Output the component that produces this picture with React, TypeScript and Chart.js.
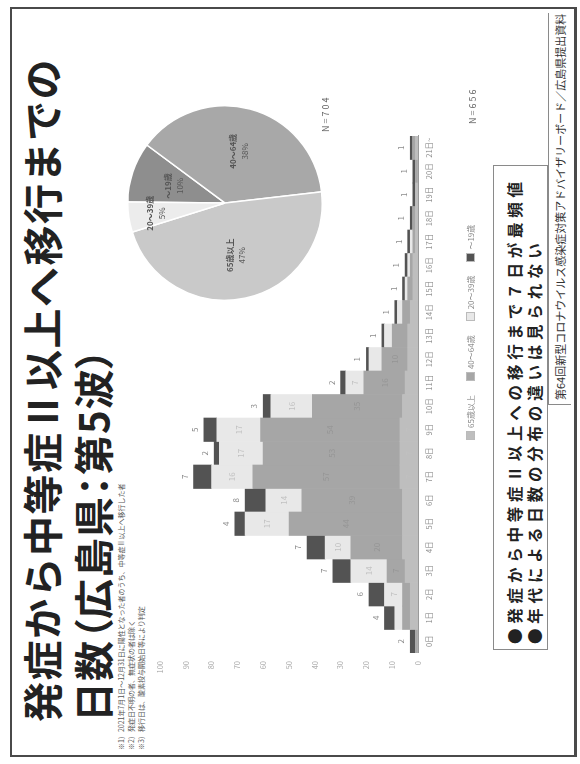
import React, { useEffect, useRef } from "react";
import { Chart, registerables } from "chart.js";
Chart.register(...registerables);

// ---- data ----
const categories = [
  "0日", "1日", "2日", "3日", "4日", "5日", "6日", "7日", "8日", "9日", "10日",
  "11日", "12日", "13日", "14日", "15日", "16日", "17日", "18日", "19日", "20日", "21日~",
];
const groupLabels = ["65歳以上", "40～64歳", "20～39歳", "～19歳"];
const groupColors = ["#bebebe", "#a6a6a6", "#e8e8e8", "#535353"];
const seriesBase = [0, 3, 3, 5, 6, 6, 6, 7, 7, 7, 6, 5, 4, 4, 3, 2, 2, 1, 1, 1, 0, 1];
const seriesMid = [1, 3, 3, 7, 20, 44, 39, 57, 53, 54, 35, 16, 10, 6, 3, 2, 1, 1, 1, 0, 1, 1];
const seriesLight = [0, 3, 7, 14, 10, 17, 14, 16, 17, 17, 16, 7, 5, 3, 2, 1, 1, 1, 0, 0, 0, 0];
const seriesDark = [2, 4, 6, 7, 7, 4, 8, 7, 2, 5, 3, 2, 1, 1, 1, 1, 1, 1, 1, 1, 1, 1];
const yMin = 0;
const yMax = 100;
const yStep = 10;

const pieLabels = ["～19歳", "40～64歳", "65歳以上", "20～39歳"];
const pieValues = [10, 38, 47, 5];
const pieColors = ["#8e8e8e", "#a8a8a8", "#c9c9c9", "#ececec"];

const FONT = '"Noto Sans CJK JP", "Noto Sans", sans-serif';

const barLabelPlugin = {
  id: "barLabels",
  afterDatasetsDraw(chart: any) {
    const ctx = chart.ctx;
    ctx.save();
    ctx.font = `8px ${FONT}`;
    ctx.textAlign = "center";
    chart.data.datasets.forEach((ds: any, di: number) => {
      const meta = chart.getDatasetMeta(di);
      meta.data.forEach((el: any, i: number) => {
        const v = ds.data[i];
        if (!v) return;
        const { x, y, base } = el.getProps(["x", "y", "base"], true);
        const h = base - y;
        if (di === chart.data.datasets.length - 1) {
          ctx.fillStyle = "#8a8a8a";
          ctx.textBaseline = "bottom";
          ctx.fillText(String(v), x, y - 5);
        } else if (h >= 16) {
          ctx.fillStyle = di === 1 ? "#959595" : "#c0c0c0";
          ctx.textBaseline = "middle";
          ctx.fillText(String(v), x, (y + base) / 2);
        }
      });
    });
    ctx.restore();
  },
};

const pieLabelPlugin = {
  id: "pieLabels",
  afterDatasetsDraw(chart: any) {
    const ctx = chart.ctx;
    const meta = chart.getDatasetMeta(0);
    ctx.save();
    ctx.textAlign = "center";
    ctx.textBaseline = "middle";
    meta.data.forEach((arc: any, i: number) => {
      const { x, y, startAngle, endAngle, outerRadius } = arc.getProps(
        ["x", "y", "startAngle", "endAngle", "outerRadius"],
        true
      );
      const mid = (startAngle + endAngle) / 2;
      const r = outerRadius * (pieValues[i] < 8 ? 0.72 : 0.55);
      const px = x + Math.cos(mid) * r;
      const py = y + Math.sin(mid) * r;
      ctx.fillStyle = "#555";
      ctx.font = `bold 8px ${FONT}`;
      ctx.fillText(pieLabels[i], px, py - 6);
      ctx.font = `8px ${FONT}`;
      ctx.fillText(pieValues[i] + "%", px, py + 6);
    });
    ctx.restore();
  },
};

export default function App() {
  const barRef = useRef<HTMLCanvasElement>(null);
  const pieRef = useRef<HTMLCanvasElement>(null);

  useEffect(() => {
    const seriesList = [seriesBase, seriesMid, seriesLight, seriesDark];
    const bar = new Chart(barRef.current as HTMLCanvasElement, {
      type: "bar",
      data: {
        labels: categories,
        datasets: seriesList.map((d, k) => ({
          label: groupLabels[k],
          data: d,
          backgroundColor: groupColors[k],
          borderWidth: 0,
          barPercentage: 1,
          categoryPercentage: 1,
        })),
      },
      options: {
        animation: false,
        responsive: false,
        layout: { autoPadding: false, padding: { top: 20, right: 32, left: 0, bottom: 0 } },
        plugins: { legend: { display: false }, tooltip: { enabled: false } },
        scales: {
          x: {
            stacked: true,
            grid: { display: false, drawTicks: false },
            border: { display: true, color: "#9a9a9a" },
            ticks: { font: { size: 7.5, family: FONT }, color: "#8c8c8c", maxRotation: 0, autoSkip: false, padding: 7 },
            afterFit: (s: any) => {
              s.height = 52;
            },
          },
          y: {
            stacked: true,
            min: yMin,
            max: yMax,
            grid: { display: false, drawTicks: false },
            border: { display: false },
            ticks: { stepSize: yStep, font: { size: 7.5, family: FONT }, color: "#a8a8a8", padding: 8 },
            afterFit: (s: any) => {
              s.width = 51;
            },
          },
        },
      },
      plugins: [barLabelPlugin],
    } as any);

    const pie = new Chart(pieRef.current as HTMLCanvasElement, {
      type: "pie",
      data: {
        labels: pieLabels,
        datasets: [
          {
            data: pieValues,
            backgroundColor: pieColors,
            borderColor: "#ffffff",
            borderWidth: 1.5,
          },
        ],
      },
      options: {
        animation: false,
        responsive: false,
        rotation: 0.6,
        layout: { padding: 0 },
        plugins: { legend: { display: false }, tooltip: { enabled: false } },
      },
      plugins: [pieLabelPlugin],
    } as any);

    return () => {
      bar.destroy();
      pie.destroy();
    };
  }, []);

  const abs = (s: React.CSSProperties): React.CSSProperties => ({ position: "absolute", ...s });

  return (
    <div style={{ position: "fixed", left: 0, top: 0, width: 580, height: 764, overflow: "hidden", background: "#fff" }}>
      <div
        style={{
          position: "absolute",
          left: 0,
          top: 0,
          width: 764,
          height: 580,
          transformOrigin: "0 0",
          transform: "translate(0px, 764px) rotate(-90deg)",
          fontFamily: FONT,
          color: "#1c1c1c",
          background: "#fff",
        }}
      >
        {/* frame */}
        <div style={abs({ left: 7, top: 10, width: 746, height: 562, borderStyle: "solid", borderColor: "#4a4a4a", borderWidth: "2px 2px 3px 2px" })} />

        {/* title */}
        <div style={abs({ left: 42, top: 16, fontSize: 40, fontWeight: 700, lineHeight: "50px", whiteSpace: "nowrap", letterSpacing: 1.5, color: "#222" })}>
          発症から中等症Ⅱ以上へ移行までの
        </div>
        <div style={abs({ left: 42, top: 67, fontSize: 40, fontWeight: 700, lineHeight: "50px", whiteSpace: "nowrap", letterSpacing: 1, fontFeatureSettings: '"palt"', color: "#222" })}>
          日数（広島県：第5波）
        </div>

        {/* notes */}
        <div style={abs({ left: 14, top: 116, fontSize: 7, lineHeight: "10px", color: "#555", whiteSpace: "nowrap" })}>
          <div>※1）2021年7月1日～12月31日に陽性となった者のうち、中等症Ⅱ以上へ移行した者</div>
          <div>※2）発症日不明の者、無症状の者は除く</div>
          <div>※3）移行日は、酸素投与開始日等により判定</div>
        </div>

        {/* pie */}
        <canvas ref={pieRef} width={196} height={196} style={abs({ left: 463, top: 127, width: 196, height: 196 })} />
        <div style={abs({ left: 632, top: 319, fontSize: 9, color: "#666", letterSpacing: 2, whiteSpace: "nowrap" })}>N=704</div>

        {/* bar chart */}
        <canvas ref={barRef} width={600} height={330} style={abs({ left: 60, top: 140, width: 600, height: 330 })} />

        {/* legend */}
        <div style={abs({ left: 324, top: 465, display: "flex", gap: 14, fontSize: 8, color: "#888", whiteSpace: "nowrap" })}>
          {groupLabels.map((g, k) => (
            <div key={g} style={{ display: "flex", alignItems: "center", gap: 3 }}>
              <span style={{ display: "inline-block", width: 7, height: 7, background: groupColors[k], border: "1px solid #bbb" }} />
              <span>{g}</span>
            </div>
          ))}
        </div>
        <div style={abs({ left: 640, top: 466, fontSize: 9, color: "#666", letterSpacing: 2, whiteSpace: "nowrap" })}>N=656</div>

        {/* key message box */}
        <div style={abs({ left: 114, top: 493, width: 483, height: 53, border: "1px solid #8a8a8a", background: "#fff" })}>
          <div style={{ position: "absolute", left: 5, top: 10, fontSize: 15.5, fontWeight: 700, lineHeight: "20px", letterSpacing: 4.8, whiteSpace: "nowrap", color: "#222" }}>
            ●発症から中等症Ⅱ以上への移行まで７日が最頻値
          </div>
          <div style={{ position: "absolute", left: 5, top: 30, fontSize: 15.5, fontWeight: 700, lineHeight: "20px", letterSpacing: 4.8, whiteSpace: "nowrap", color: "#222" }}>
            ●年代による日数の分布の違いは見られない
          </div>
        </div>

        {/* footer */}
        <div style={abs({ left: 359, top: 548, width: 392, height: 23, borderLeft: "1px solid #8a8a8a", borderTop: "1px solid #8a8a8a", fontSize: 11, lineHeight: "23px", color: "#333", whiteSpace: "nowrap", paddingLeft: 4, boxSizing: "border-box" })}>
          第64回新型コロナウイルス感染症対策アドバイザリーボード／広島県提出資料
        </div>
      </div>
    </div>
  );
}
